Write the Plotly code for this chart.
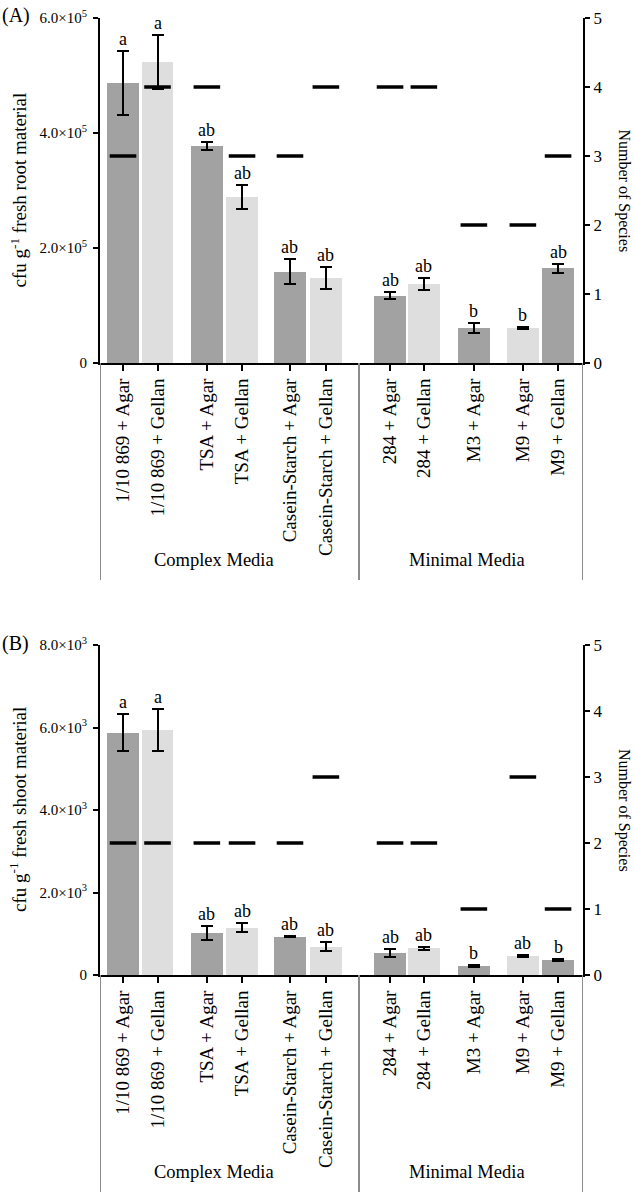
import plotly.graph_objects as go

# ---------------- data ----------------
media = ["1/10 869 + Agar", "1/10 869 + Gellan", "TSA + Agar", "TSA + Gellan",
         "Casein-Starch + Agar", "Casein-Starch + Gellan", "284 + Agar", "284 + Gellan",
         "M3 + Agar", "M9 + Agar", "M9 + Gellan"]
groups = ["Complex Media", "Minimal Media"]

root_cfu = [487000, 523000, 377000, 289000, 159000, 148000, 117000, 137000, 61000, 61000, 165000]
root_err = [56000, 47000, 7000, 21000, 22000, 19000, 6000, 10000, 8000, 2000, 8000]
root_species = [3, 4, 4, 3, 3, 4, 4, 4, 2, 2, 3]
root_letters = ["a", "a", "ab", "ab", "ab", "ab", "ab", "ab", "b", "b", "ab"]

shoot_cfu = [5870, 5940, 1020, 1150, 930, 680, 530, 650, 220, 460, 360]
shoot_err = [450, 510, 180, 100, 20, 110, 100, 40, 20, 30, 30]
shoot_species = [2, 2, 2, 2, 2, 3, 2, 2, 1, 3, 1]
shoot_letters = ["a", "a", "ab", "ab", "ab", "ab", "ab", "ab", "b", "ab", "b"]

root_ticks = [0, 200000, 400000, 600000]
root_ticktext = ["0", "2.0×10<sup>5</sup>", "4.0×10<sup>5</sup>", "6.0×10<sup>5</sup>"]
shoot_ticks = [0, 2000, 4000, 6000, 8000]
shoot_ticktext = ["0", "2.0×10<sup>3</sup>", "4.0×10<sup>3</sup>", "6.0×10<sup>3</sup>", "8.0×10<sup>3</sup>"]
species_ticks = [0, 1, 2, 3, 4, 5]

# ---------------- layout helpers ----------------
W, H = 634, 1192
xpos = [0, 1, 2.43, 3.45, 4.84, 5.88, 7.74, 8.72, 10.17, 11.59, 12.61]
xrange_ = [-0.667, 13.333]
divider_x = [xrange_[0], 6.84, xrange_[1]]
group_x = [2.64, 9.97]
DARK, LIGHT = "#a2a2a2", "#dedede"
bar_colors = [DARK if i % 2 == 0 else LIGHT for i in range(len(media))]
FONT = "Liberation Serif"

def fx(px):
    return px / W

def fy(py):
    return 1 - py / H

panels = [
    dict(cfu=root_cfu, err=root_err, sp=root_species, let=root_letters,
         ticks=root_ticks, ticktext=root_ticktext, rng=[0, 600000],
         top=18, bottom=363, label="(A)", ytitle="cfu g<sup>-1</sup> fresh root material",
         group_y=560, div_end=580),
    dict(cfu=shoot_cfu, err=shoot_err, sp=shoot_species, let=shoot_letters,
         ticks=shoot_ticks, ticktext=shoot_ticktext, rng=[0, 8000],
         top=645, bottom=975, label="(B)", ytitle="cfu g<sup>-1</sup> fresh shoot material",
         group_y=1172, div_end=1192),
]

fig = go.Figure()
annotations = []
shapes = []
xdom = [fx(100), fx(583)]

for k, p in enumerate(panels):
    xa = "x" if k == 0 else "x2"
    ya = "y" if k == 0 else "y3"
    ya2 = "y2" if k == 0 else "y4"
    fig.add_trace(go.Bar(
        x=xpos, y=p["cfu"], width=0.92, marker=dict(color=bar_colors, line=dict(width=0)),
        error_y=dict(type="data", array=p["err"], visible=True, color="black",
                     thickness=2, width=6),
        xaxis=xa, yaxis=ya, showlegend=False))
    fig.add_trace(go.Scatter(
        x=xpos, y=p["sp"], mode="markers",
        marker=dict(symbol="line-ew", size=19, line=dict(width=3.5, color="black"), color="black"),
        xaxis=xa, yaxis=ya2, showlegend=False, cliponaxis=False))
    for xi, v, e, t in zip(xpos, p["cfu"], p["err"], p["let"]):
        annotations.append(dict(x=xi, y=v + e, xref=xa, yref=ya, text=t, showarrow=False,
                                yanchor="bottom", yshift=0,
                                font=dict(family=FONT, size=18, color="black")))
    dom = [fy(p["bottom"]), fy(p["top"])]
    axn = "" if k == 0 else "2"
    fig.update_layout(**{
        f"xaxis{axn}": dict(domain=xdom, range=xrange_, tickvals=xpos, ticktext=media,
                            tickangle=-90, ticks="outside", ticklen=6, tickwidth=2,
                            tickcolor="black", showline=True, linecolor="black", linewidth=2,
                            showgrid=False, zeroline=False, automargin=False,
                            anchor=ya, tickfont=dict(family=FONT, size=19, color="black")),
    })
    yl = "yaxis" if k == 0 else "yaxis3"
    yr = "yaxis2" if k == 0 else "yaxis4"
    fig.update_layout(**{
        yl: dict(domain=dom, range=p["rng"], tickvals=p["ticks"], ticktext=p["ticktext"],
                 ticks="outside", ticklen=5, tickwidth=2, tickcolor="black",
                 showline=True, linecolor="black", linewidth=2, showgrid=False,
                 zeroline=False, automargin=False, anchor=xa, ticklabelstandoff=3,
                 tickfont=dict(family=FONT, size=15, color="black")),
        yr: dict(domain=dom, range=[0, 5], tickvals=species_ticks,
                 ticktext=[str(t) for t in species_ticks],
                 overlaying=ya, side="right", anchor=xa,
                 ticks="outside", ticklen=5, tickwidth=2, tickcolor="black",
                 showline=True, linecolor="black", linewidth=2, showgrid=False,
                 zeroline=False, automargin=False,
                 tickfont=dict(family=FONT, size=17, color="black")),
    })
    # panel label
    annotations.append(dict(x=fx(0), y=fy(p["top"] - 2), xref="paper", yref="paper",
                            text=p["label"], showarrow=False, xanchor="left", yanchor="middle",
                            font=dict(family=FONT, size=20, color="black")))
    # axis titles
    mid = (p["top"] + p["bottom"]) / 2
    annotations.append(dict(x=fx(18), y=fy(mid), xref="paper", yref="paper",
                            text=p["ytitle"], textangle=-90, showarrow=False,
                            xanchor="center", yanchor="middle",
                            font=dict(family=FONT, size=19, color="black")))
    annotations.append(dict(x=fx(624), y=fy(mid), xref="paper", yref="paper",
                            text="Number of Species", textangle=90, showarrow=False,
                            xanchor="center", yanchor="middle",
                            font=dict(family=FONT, size=16, color="black")))
    # group labels
    for gx, g in zip(group_x, groups):
        annotations.append(dict(x=gx, y=fy(p["group_y"]), xref=xa, yref="paper",
                                text=g, showarrow=False, xanchor="center", yanchor="middle",
                                font=dict(family=FONT, size=18.5, color="black")))
    # dividers
    for dx in divider_x:
        shapes.append(dict(type="line", xref=xa, yref="paper", x0=dx, x1=dx,
                           y0=fy(p["bottom"]), y1=fy(p["div_end"]),
                           line=dict(color="#8c8c8c", width=2)))

fig.update_layout(width=W, height=H, margin=dict(l=0, r=0, t=0, b=0),
                  paper_bgcolor="white", plot_bgcolor="white", bargap=0,
                  annotations=annotations, shapes=shapes,
                  font=dict(family=FONT, color="black"))
fig.write_html("out.html", config={"displayModeBar": False},
               post_script="document.body.style.margin='0';document.body.style.overflow='hidden';")
